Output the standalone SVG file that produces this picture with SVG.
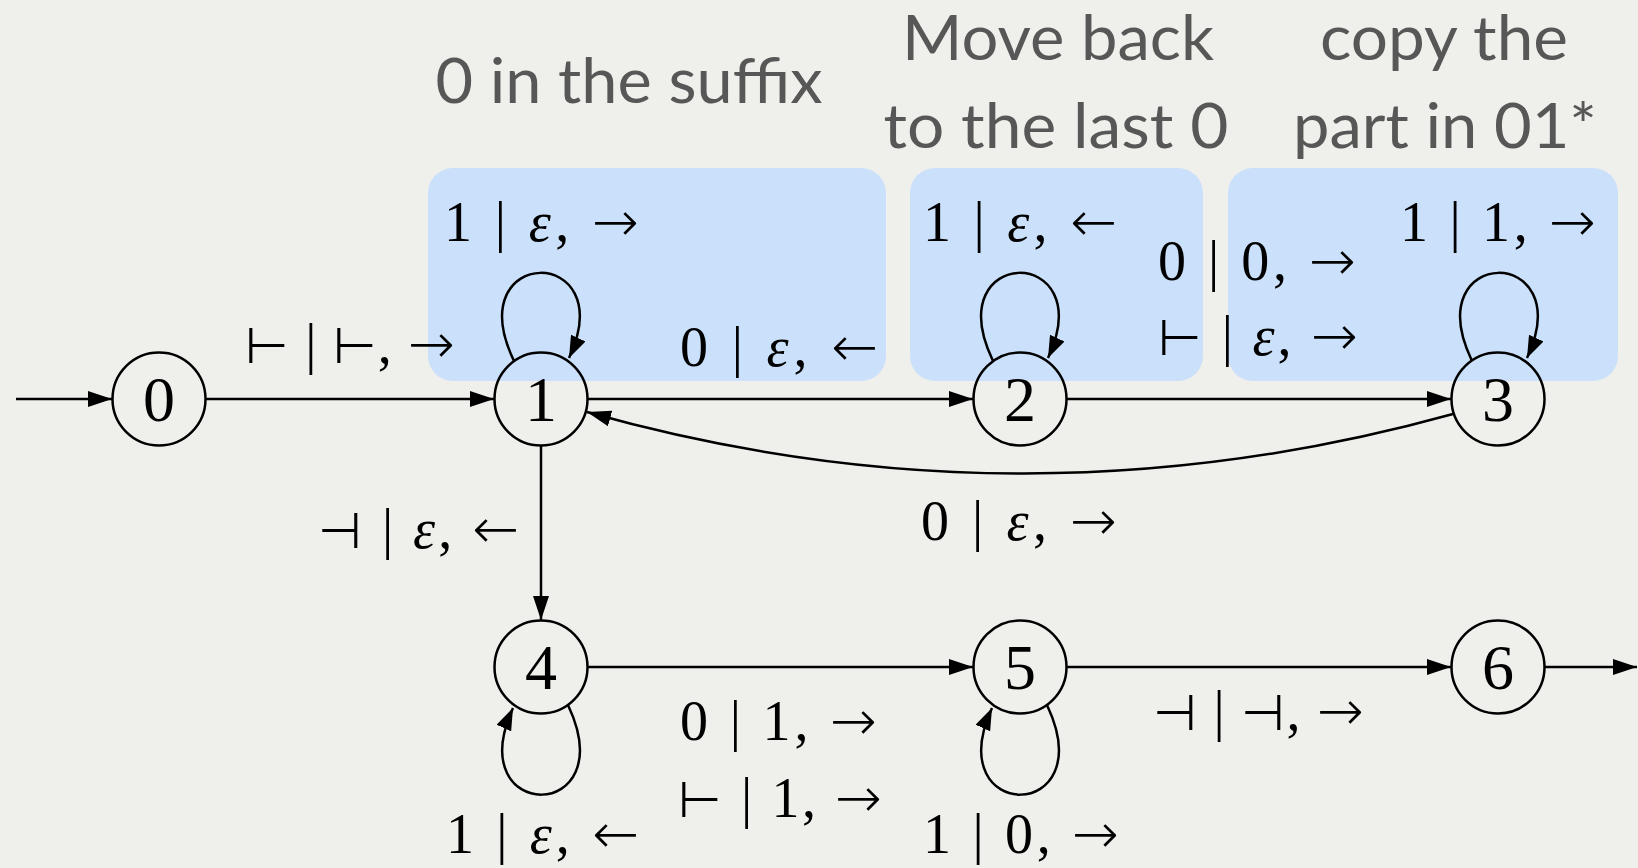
<svg xmlns="http://www.w3.org/2000/svg" width="1638" height="868" viewBox="0 0 1638 868">
<style>
.bg{fill:#efefeb}
.box{fill:#cbe0fa}
.hdr{font-family:Lato,"Liberation Sans",sans-serif;font-size:62px;fill:#575757;text-anchor:middle}
.st{fill:none;stroke:#000;stroke-width:2.5}
.nd{font-family:"Liberation Serif","DejaVu Serif",serif;font-size:64px;fill:#000;text-anchor:middle}
.lb{font-family:"Liberation Serif","DejaVu Serif","DejaVu Sans",serif;font-size:56px;fill:#000}
.e{fill:none;stroke:#000;stroke-width:2.5}
.it{font-style:italic}
.ar{font-family:"DejaVu Sans",sans-serif;font-weight:200}
.sy{font-family:"DejaVu Sans",sans-serif;font-weight:200;font-size:50px}
</style>
<defs>
<marker id="ah" markerUnits="userSpaceOnUse" markerWidth="26" markerHeight="18" refX="24" refY="8" orient="auto">
<path d="M0,0 L24,8 L0,16 z" fill="#000"/>
</marker>
<marker id="ahs" markerUnits="userSpaceOnUse" markerWidth="24" markerHeight="18" refX="22" refY="8" orient="auto">
<path d="M0,0 L22,8 L0,16 z" fill="#000"/>
</marker>
</defs>
<rect class="bg" x="0" y="0" width="1638" height="868"/>
<g id="regions">
<rect class="box" x="428" y="168" width="458" height="213" rx="25"/>
<rect class="box" x="910" y="168" width="293" height="213" rx="25"/>
<rect class="box" x="1228" y="168" width="390" height="213" rx="25"/>
</g>
<g id="headers">
<text class="hdr" x="629" y="103" textLength="387" lengthAdjust="spacingAndGlyphs">0 in the suffix</text>
<text class="hdr" x="1058" y="60" textLength="312" lengthAdjust="spacingAndGlyphs">Move back</text>
<text class="hdr" x="1056" y="148" textLength="345" lengthAdjust="spacingAndGlyphs">to the last 0</text>
<text class="hdr" x="1444" y="60" textLength="248" lengthAdjust="spacingAndGlyphs">copy the</text>
<text class="hdr" x="1445" y="148" textLength="304" lengthAdjust="spacingAndGlyphs">part in 01*</text>
</g>
<g id="connectors">
<line class="e" x1="16" y1="399" x2="112" y2="399" marker-end="url(#ah)"/>
<line class="e" x1="206" y1="399" x2="494" y2="399" marker-end="url(#ah)"/>
<line class="e" x1="588" y1="399" x2="973" y2="399" marker-end="url(#ah)"/>
<line class="e" x1="1067" y1="399" x2="1451" y2="399" marker-end="url(#ah)"/>
<path class="e" d="M1453,414 Q1020,534 587,412" marker-end="url(#ah)"/>
<line class="e" x1="541" y1="446" x2="541" y2="620" marker-end="url(#ah)"/>
<line class="e" x1="588" y1="667" x2="973" y2="667" marker-end="url(#ah)"/>
<line class="e" x1="1067" y1="667" x2="1451" y2="667" marker-end="url(#ah)"/>
<line class="e" x1="1545" y1="667" x2="1637" y2="667" marker-end="url(#ah)"/>
<path class="e" d="M514,361 C458,244 622,244 569,358" marker-end="url(#ahs)"/>
<path class="e" d="M993,361 C937,244 1101,244 1048,358" marker-end="url(#ahs)"/>
<path class="e" d="M1472,361 C1416,244 1580,244 1527,358" marker-end="url(#ahs)"/>
<path class="e" d="M568,705 C624,824 460,824 513,708" marker-end="url(#ahs)"/>
<path class="e" d="M1047,705 C1103,824 939,824 992,708" marker-end="url(#ahs)"/>
</g>
<g id="n0"><circle class="st" cx="159" cy="399" r="46.5"/><text class="nd" x="159" y="421">0</text></g>
<g id="n1"><circle class="st" cx="541" cy="399" r="46.5"/><text class="nd" x="541" y="421">1</text></g>
<g id="n2"><circle class="st" cx="1020" cy="399" r="46.5"/><text class="nd" x="1020" y="421">2</text></g>
<g id="n3"><circle class="st" cx="1498" cy="399" r="46.5"/><text class="nd" x="1498" y="421">3</text></g>
<g id="n4"><circle class="st" cx="541" cy="667" r="46.5"/><text class="nd" x="541" y="689">4</text></g>
<g id="n5"><circle class="st" cx="1020" cy="667" r="46.5"/><text class="nd" x="1020" y="689">5</text></g>
<g id="n6"><circle class="st" cx="1498" cy="667" r="46.5"/><text class="nd" x="1498" y="689">6</text></g>
<g id="labels">
<text class="lb" x="444" y="241" textLength="195" lengthAdjust="spacing">1 | <tspan class="it">ε</tspan>, <tspan class="ar">→</tspan></text>
<text class="lb" x="245" y="363" textLength="210" lengthAdjust="spacing"><tspan class="sy">⊢</tspan> | <tspan class="sy">⊢</tspan>, <tspan class="ar">→</tspan></text>
<text class="lb" x="680" y="366" textLength="198" lengthAdjust="spacing">0 | <tspan class="it">ε</tspan>, <tspan class="ar">←</tspan></text>
<text class="lb" x="923" y="241" textLength="194" lengthAdjust="spacing">1 | <tspan class="it">ε</tspan>, <tspan class="ar">←</tspan></text>
<text class="lb" x="1158" y="280" textLength="198" lengthAdjust="spacing">0 | 0, <tspan class="ar">→</tspan></text>
<text class="lb" x="1158" y="355" textLength="200" lengthAdjust="spacing"><tspan class="sy">⊢</tspan> | <tspan class="it">ε</tspan>, <tspan class="ar">→</tspan></text>
<text class="lb" x="1400" y="241" textLength="196" lengthAdjust="spacing">1 | 1, <tspan class="ar">→</tspan></text>
<text class="lb" x="318" y="548" textLength="201" lengthAdjust="spacing"><tspan class="sy">⊣</tspan> | <tspan class="it">ε</tspan>, <tspan class="ar">←</tspan></text>
<text class="lb" x="921" y="540" textLength="196" lengthAdjust="spacing">0 | <tspan class="it">ε</tspan>, <tspan class="ar">→</tspan></text>
<text class="lb" x="680" y="740" textLength="197" lengthAdjust="spacing">0 | 1, <tspan class="ar">→</tspan></text>
<text class="lb" x="678" y="817" textLength="204" lengthAdjust="spacing"><tspan class="sy">⊢</tspan> | 1, <tspan class="ar">→</tspan></text>
<text class="lb" x="923" y="853" textLength="196" lengthAdjust="spacing">1 | 0, <tspan class="ar">→</tspan></text>
<text class="lb" x="446" y="853" textLength="193" lengthAdjust="spacing">1 | <tspan class="it">ε</tspan>, <tspan class="ar">←</tspan></text>
<text class="lb" x="1153" y="730" textLength="211" lengthAdjust="spacing"><tspan class="sy">⊣</tspan> | <tspan class="sy">⊣</tspan>, <tspan class="ar">→</tspan></text>
</g>
</svg>
